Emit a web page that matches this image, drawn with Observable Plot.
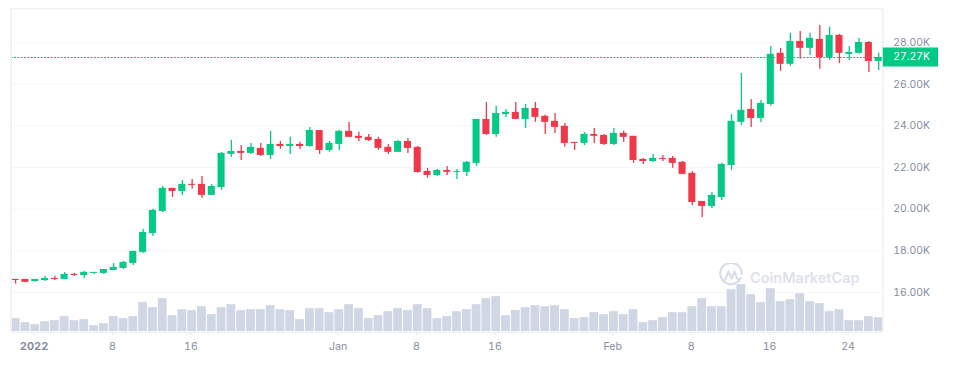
<!DOCTYPE html>
<html>
<head>
<meta charset="utf-8">
<script src="https://cdn.jsdelivr.net/npm/d3@7"></script>
<script src="https://cdn.jsdelivr.net/npm/@observablehq/plot@0.6"></script>
<style>
html,body{margin:0;padding:0;background:#fff;overflow:hidden}
#wrap{position:relative;width:955px;height:367px}
#mark{position:absolute;left:719px;top:263px;display:flex;align-items:center;color:#dde2ec;font:600 14.5px Inter,sans-serif}
#mark span{margin-left:7px;position:relative;top:2px}
#chart{position:absolute;left:0;top:0}
</style>
</head>
<body>
<div id="wrap">
<div id="mark"><svg width="24" height="24" viewBox="0 0 24 24" fill="none" stroke="#d8dde8" stroke-width="2.2" stroke-linecap="round" stroke-linejoin="round"><path d="M21.5 15.5A10.7 10.7 0 1 1 22.7 11"/><path d="M6 17l3.5-8.5 3 7 3-7 2.5 7c1 1.5 3 1 4-.5"/></svg><span>CoinMarketCap</span></div>
<div id="chart"></div>
</div>
<script>
const open = [16.62,16.62,16.52,16.57,16.67,16.62,16.86,16.81,16.91,16.91,17.05,17.15,17.39,17.92,18.83,19.89,21.00,20.85,21.19,21.19,20.66,21.04,22.63,22.77,22.68,22.92,22.58,23.11,23.01,23.11,23.01,23.78,22.82,23.11,23.74,23.50,23.45,23.35,22.97,22.73,23.25,22.97,21.81,21.62,21.86,21.77,21.77,22.20,24.31,23.59,24.55,24.65,24.31,24.84,24.46,24.22,23.98,23.21,23.16,23.59,23.54,23.11,23.64,23.50,22.39,22.29,22.44,22.44,22.25,21.72,20.37,20.13,20.56,22.10,24.17,24.79,24.36,25.03,27.49,26.96,28.06,27.73,28.16,27.29,28.35,27.44,27.49,28.01,27.10];
const close = [16.57,16.48,16.62,16.67,16.62,16.86,16.81,16.96,16.96,17.10,17.20,17.44,17.97,18.88,19.94,21.00,20.85,21.19,21.14,20.66,21.09,22.68,22.77,22.68,22.97,22.58,23.11,23.01,23.11,23.01,23.78,22.82,23.16,23.74,23.45,23.40,23.30,22.92,22.73,23.25,22.92,21.76,21.62,21.86,21.77,21.81,22.25,24.31,23.59,24.60,24.65,24.31,24.84,24.41,24.17,23.93,23.16,23.16,23.59,23.50,23.11,23.64,23.45,22.34,22.29,22.44,22.39,22.20,21.67,20.32,20.13,20.66,22.15,24.22,24.75,24.36,25.08,27.44,26.96,28.06,27.73,28.21,27.29,28.35,27.49,27.53,28.01,27.10,27.29];
const high = [16.62,16.62,16.62,16.77,16.77,16.96,16.91,17.01,16.96,17.10,17.39,17.49,17.97,19.02,19.99,21.09,21.00,21.38,21.43,21.57,21.19,22.73,23.30,23.06,23.16,23.16,23.74,23.25,23.45,23.21,23.93,23.78,23.25,23.78,24.17,23.69,23.59,23.45,23.11,23.30,23.40,23.01,21.96,21.91,22.05,21.91,22.29,24.31,25.13,24.94,24.79,25.13,25.03,25.13,24.51,24.60,24.12,23.21,23.69,23.88,23.59,23.88,23.74,23.50,22.44,22.63,22.58,22.53,22.29,21.81,20.37,20.80,22.20,24.55,26.52,25.27,25.23,27.82,27.73,28.45,28.54,28.45,28.83,28.74,28.40,27.82,28.21,28.06,27.49];
const low = [16.40,16.48,16.48,16.52,16.57,16.62,16.77,16.67,16.86,16.86,17.05,17.10,17.29,17.87,18.69,19.84,20.56,20.66,20.95,20.52,20.66,20.90,22.49,22.34,22.63,22.53,22.39,22.87,22.63,22.87,22.97,22.63,22.73,22.82,23.45,23.25,23.25,22.82,22.63,22.73,22.68,21.72,21.48,21.57,21.62,21.43,21.57,22.05,23.54,23.45,24.41,24.31,23.88,24.17,23.59,23.64,22.97,22.82,23.06,23.16,23.06,23.06,23.21,22.20,22.15,22.25,22.29,21.96,21.67,20.18,19.60,20.03,20.42,21.86,24.02,23.93,24.17,24.94,26.62,26.86,27.20,27.39,26.72,27.15,27.00,27.15,27.44,26.57,26.67];
const volume = [13,9,7,10,11,15,11,12,6,8,15,13,15,29,24,33,16,22,21,25,17,24,27,21,22,22,26,22,21,12,23,23,19,22,27,23,13,16,20,23,21,27,23,13,15,20,22,27,33,35,16,21,24,26,25,26,22,13,14,19,17,20,17,22,9,11,14,19,19,25,33,25,25,42,47,37,29,43,30,32,38,30,28,20,22,11,11,15,14];
const xTickIndex = [10,18,33,41,49,61,69,77,85];
const xTickLabels = ["8","16","Jan","8","16","Feb","8","16","24"];
const yearTick = [2];
const yearLabel = "2022";
const priceTicks = [16,18,20,22,24,26,28];
const lastPrice = 27.27;

const green = "#02c986", red = "#ef394a", bar = "#cfd6e4", gridC = "#f4f5f7", textC = "#868da3";
const yMin = 14.07, yMax = 29.63, xMin = -0.45, xMax = 88.42;
const volUnit = 1 / 20.8;
const rows = open.map((o, i) => ({i, open: o, close: close[i], high: high[i], low: low[i], volume: volume[i], up: close[i] >= o}));
const color = d => d.up ? green : red;
const tickName = new Map(xTickIndex.map((t, k) => [t, xTickLabels[k]]));
const fmt = d => d.toFixed(2) + "K";

const chart = Plot.plot({
  width: 955, height: 367,
  marginLeft: 10.7, marginRight: 72.7, marginTop: 8.3, marginBottom: 35,
  style: {background: "transparent", fontFamily: "Inter, sans-serif"},
  x: {domain: [xMin, xMax], axis: null},
  y: {domain: [yMin, yMax], axis: null},
  marks: [
    Plot.ruleY(priceTicks, {stroke: gridC, strokeWidth: 1}),
    Plot.rect(rows, {
      x1: d => d.i - 0.45, x2: d => d.i + 0.45,
      y1: yMin + 0.04, y2: d => yMin + 0.04 + d.volume * volUnit,
      fill: bar
    }),
    Plot.ruleX(rows, {x: "i", y1: "low", y2: "high", stroke: color, strokeWidth: 1.3}),
    Plot.rect(rows, {
      x1: d => d.i - 0.36, x2: d => d.i + 0.36,
      y1: "open", y2: "close", fill: color
    }),
    Plot.ruleY([lastPrice], {x1: xMin, x2: xMax, stroke: "#0fb97f", strokeWidth: 1, strokeDasharray: "2,1.33", dy: -0.4}),
    Plot.ruleX([xMin, xMax], {stroke: "#f0f1f4", strokeWidth: 1.5}),
    Plot.ruleY([yMin, yMax], {stroke: "#f0f1f4", strokeWidth: 1.5}),
    Plot.ruleY([lastPrice], {x1: xMax + 0.05, x2: 94.1, stroke: green, strokeWidth: 19, dy: -0.8}),
    Plot.axisX({ticks: xTickIndex, tickFormat: d => tickName.get(d), tickSize: 3, tickPadding: 7, stroke: "#e6e8ee", fill: textC, label: null, fontSize: 10.6, dx: -1.2}),
    Plot.axisX({ticks: yearTick, tickFormat: () => yearLabel, tickSize: 3, tickPadding: 7, stroke: "#e6e8ee", fill: textC, fontWeight: 700, label: null, fontSize: 11, dx: -1.2}),
    Plot.axisY({anchor: "right", ticks: priceTicks, tickFormat: fmt, tickSize: 0, tickPadding: 10.4, fill: textC, label: null, fontSize: 10.4}),
    Plot.axisY({anchor: "right", ticks: [lastPrice], tickFormat: fmt, tickSize: 0, tickPadding: 10.4, fill: "white", label: null, fontSize: 10.4, dy: -0.8})
  ]
});
document.getElementById("chart").appendChild(chart);
</script>
</body>
</html>
